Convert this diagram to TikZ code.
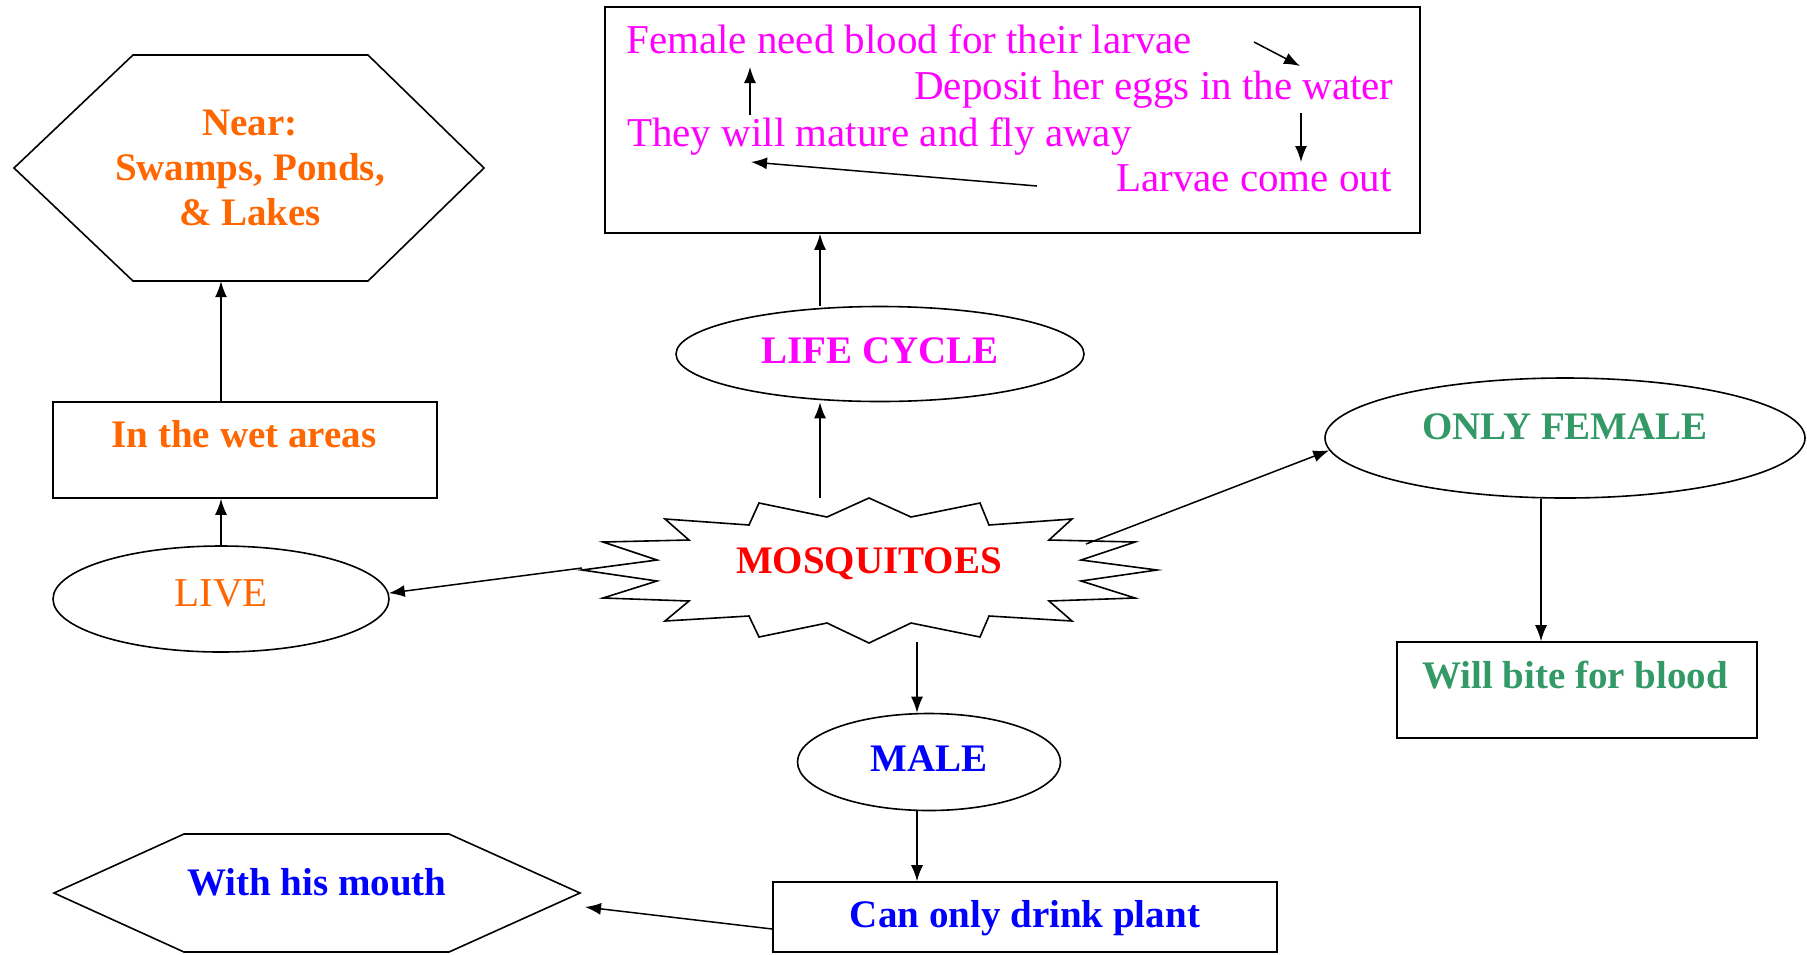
\documentclass[tikz,border=0pt]{standalone}
\usepackage{fontspec}
\setmainfont{Liberation Serif}
\usetikzlibrary{arrows.meta,shapes.geometric}
\definecolor{cOrange}{HTML}{FF6600}
\definecolor{cMagenta}{HTML}{FF00FF}
\definecolor{cRed}{HTML}{FF0000}
\definecolor{cGreen}{HTML}{339966}
\definecolor{cBlue}{HTML}{0000FF}
\begin{document}
\begin{tikzpicture}[x=1pt,y=-1pt,
  shapebox/.style={draw=black, line width=1.6pt, inner sep=0pt},
  ell/.style={ellipse, draw=black, line width=1.6pt, inner sep=0pt},
  ghost/.style={inner sep=0pt, draw=none},
  outline/.style={draw=black, line width=1.6pt, line join=miter},
  arr/.style={-{Latex[length=16pt,width=12pt]}, line width=1.5pt},
  lbl/.style={anchor=base, inner sep=0pt, font=\fontsize{41}{47}\selectfont},
  lblb/.style={anchor=base, inner sep=0pt, font=\fontsize{39}{45}\selectfont\bfseries}]
\useasboundingbox (0,0) rectangle (1807,954);
\clip (0,0) rectangle (1807,954);

% boxes
\node[shapebox, minimum width=815pt, minimum height=226pt] (cycle) at (1012.5,120) {};
\node[shapebox, minimum width=384pt, minimum height=96pt] (wet) at (245,450) {};
\node[shapebox, minimum width=360pt, minimum height=96pt] (bite) at (1577,690) {};
\node[shapebox, minimum width=504pt, minimum height=70pt] (plant) at (1025,917) {};

% ellipses
\node[ell, minimum width=336pt, minimum height=106pt] (live) at (221,599) {};
\node[ell, minimum width=408pt, minimum height=95pt] (lifecycle) at (880,354) {};
\node[ell, minimum width=480pt, minimum height=120pt] (female) at (1565,438) {};
\node[ell, minimum width=263pt, minimum height=97pt] (male) at (929,762) {};

% hexagons
\node[ghost, minimum width=470pt, minimum height=226pt] (nearhex) at (249,168) {};
\draw[outline] (14,168) -- (133,55) -- (368,55) -- (484,168) -- (368,281) -- (133,281) -- cycle;
\node[ghost, minimum width=526pt, minimum height=118pt] (mouthhex) at (317,893) {};
\draw[outline] (54,893) -- (184,834) -- (449,834) -- (580,893) -- (449,952) -- (184,952) -- cycle;

% star
\node[ghost, minimum width=575pt, minimum height=145pt] (star) at (869.5,570.5) {};
\draw[outline] (869,498) -- (911,517) -- (980,503) -- (989,525) -- (1072,519) -- (1049,540)
  -- (1135,542) -- (1081,560) -- (1157,570) -- (1081,581) -- (1135,598) -- (1049,601)
  -- (1072,621) -- (989,616) -- (980,637) -- (911,623) -- (869,643) -- (827,623)
  -- (759,637) -- (749,616) -- (665,621) -- (689,601) -- (603,598) -- (657,581)
  -- (582,570) -- (657,560) -- (603,542) -- (689,540) -- (665,519) -- (749,525)
  -- (759,503) -- (827,517) -- cycle;

% texts
\node[lblb, text=cOrange, align=center, font=\fontsize{39}{45}\selectfont\bfseries] (neartxt) at (250,225) {Near:\\Swamps, Ponds,\\\& Lakes};
\node[lblb, text=cOrange] (wettxt) at (244,447) {In the wet areas};
\node[lbl, text=cOrange] (livetxt) at (221,606) {LIVE};
\node[lblb, text=cMagenta] (lctxt) at (880,363) {LIFE CYCLE};
\node[lblb, text=cRed] (mosq) at (869,573) {MOSQUITOES};
\node[lblb, text=cGreen] (femtxt) at (1565,439) {ONLY FEMALE};
\node[lblb, text=cGreen] (bitetxt) at (1575,688) {Will bite for blood};
\node[lblb, text=cBlue] (maletxt) at (929,771) {MALE};
\node[lblb, text=cBlue] (planttxt) at (1025,927) {Can only drink plant};
\node[lblb, text=cBlue] (mouthtxt) at (317,895) {With his mouth};

\node[lbl, anchor=base west, text=cMagenta] (c1) at (626,53) {Female need blood for their larvae};
\node[lbl, anchor=base west, text=cMagenta] (c2) at (914,99) {Deposit her eggs in the water};
\node[lbl, anchor=base west, text=cMagenta] (c3) at (627,146) {They will mature and fly away};
\node[lbl, anchor=base west, text=cMagenta] (c4) at (1116,191) {Larvae come out};

% cycle arrows
\coordinate (a1s) at (1254,42); \coordinate (a1e) at (1300,66);
\coordinate (a2s) at (1301,113); \coordinate (a2e) at (1301,162);
\coordinate (a3s) at (1037,186); \coordinate (a3e) at (751,162);
\coordinate (a4s) at (750,115); \coordinate (a4e) at (750,67);
\draw[arr] (a1s) -- (a1e);
\draw[arr] (a2s) -- (a2e);
\draw[arr] (a3s) -- (a3e);
\draw[arr] (a4s) -- (a4e);

% main arrows
\coordinate (sUp) at (820,498);
\coordinate (sLeft) at (582,568);
\coordinate (sRight) at (1086,544);
\coordinate (sDown) at (917,642);
\coordinate (mouthEnd) at (585,907);
\draw[arr] (sUp |- lifecycle.north) -- (sUp |- cycle.south);
\draw[arr] (sUp) -- (sUp |- lifecycle.south);
\draw[arr] (sLeft) -- (live.2);
\draw[arr] (sRight) -- (female.183);
\draw[arr] (sDown) -- (sDown |- male.north);
\draw[arr] (sDown |- male.south) -- (sDown |- plant.north);
\draw[arr] ([yshift=-12pt]plant.west) -- (mouthEnd);
\draw[arr] (live.north) -- (live.north |- wet.south);
\draw[arr] (live.north |- wet.north) -- (live.north |- nearhex.south);
\draw[arr] ([xshift=-24pt]female.south) -- ([xshift=-36pt]bite.north);
\end{tikzpicture}
\end{document}
